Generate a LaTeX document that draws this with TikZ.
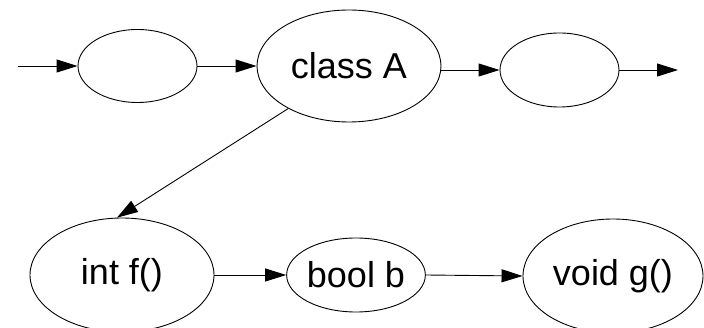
\documentclass[tikz,border=0pt]{standalone}
\usepackage{fontspec}
\setmainfont{Liberation Sans}
\usetikzlibrary{shapes.geometric,arrows.meta}
\tikzset{
  oval/.style={draw=black, line width=0.9pt, ellipse, inner sep=0pt, font=\fontsize{36}{40}\selectfont},
  arr/.style={draw=black, line width=0.9pt, -{Triangle[length=21pt,width=13pt]}}
}
\begin{document}
\begin{tikzpicture}[x=1pt,y=-1pt]
\useasboundingbox (0,0) rectangle (704,328);
\node[oval, minimum width=119pt, minimum height=73pt] (e1) at (137.5,66) {};
\node[oval, minimum width=184pt, minimum height=112pt] (A) at (349,66) {class A};
\node[oval, minimum width=119pt, minimum height=74pt] (e3) at (559.5,70) {};
\node[oval, minimum width=184pt, minimum height=114pt] (f) at (122,275) {int f()};
\node[oval, minimum width=132pt, minimum height=74pt] (b) at (356,275) {bool b};
\node[oval, minimum width=180pt, minimum height=114pt] (g) at (613,276) {void g()};
\coordinate (in) at (18,66);
\coordinate (out) at (678,70);
\draw[arr] (in) -- (e1.west);
\draw[arr] (e1.east) -- (A.west);
\draw[arr] (A.east |- e3.west) -- (e3.west);
\draw[arr] (e3.east) -- (out);
\draw[arr] (A.-145) -- (f.95);
\draw[arr] (f.east) -- (b.west);
\draw[arr] (b.east) -- (g.west);
\end{tikzpicture}
\end{document}
